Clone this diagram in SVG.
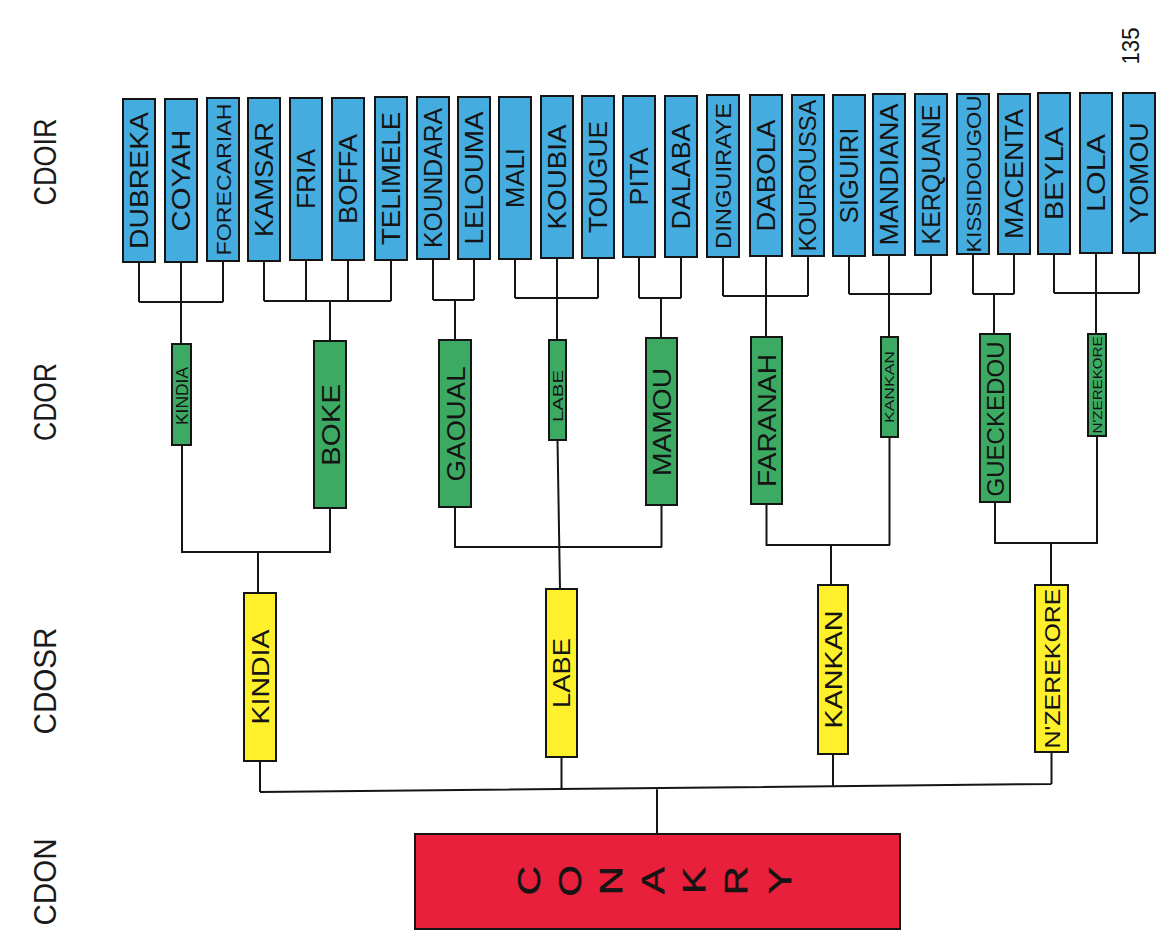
<svg xmlns="http://www.w3.org/2000/svg" width="1168" height="944" viewBox="0 0 1168 944">
<style>
.b{fill:#45ACDF;stroke:#151515;stroke-width:2}
.g{fill:#3DAA63;stroke:#151515;stroke-width:2}
.y{fill:#FFF02C;stroke:#151515;stroke-width:2}
.r{fill:#E8203C;stroke:#151515;stroke-width:2}
.t{font-family:"Liberation Sans",Arial,sans-serif;fill:#141414;text-anchor:middle}
.lab{font-family:"Liberation Sans",Arial,sans-serif;fill:#1a1a1a;text-anchor:middle;font-size:32px}
#connectors path{fill:none;stroke:#151515;stroke-width:2}
</style>
<rect width="1168" height="944" fill="#ffffff"/>

<g id="levels">
<text class="lab" transform="translate(56,162) rotate(-90)" textLength="87" lengthAdjust="spacingAndGlyphs">CDOIR</text>
<text class="lab" transform="translate(56,402) rotate(-90)" textLength="78" lengthAdjust="spacingAndGlyphs">CDOR</text>
<text class="lab" transform="translate(56,681) rotate(-90)" textLength="107" lengthAdjust="spacingAndGlyphs">CDOSR</text>
<text class="lab" transform="translate(56,882) rotate(-90)" textLength="87" lengthAdjust="spacingAndGlyphs">CDON</text>
<text class="t" font-size="23" transform="translate(1139,46) rotate(-90)" textLength="37" lengthAdjust="spacingAndGlyphs">135</text>
</g>

<g id="connectors">
<path d="M139,262 V302 M181,262 V344 M223,261 V302 M139,302 H223"/>
<path d="M264,261 V301 M306,260 V301 M348,260 V301 M391,260 V301 M264,301 H391 M330,301 V341"/>
<path d="M433,259 V300 M474,259 V300 M433,300 H474 M455,300 V340"/>
<path d="M515,259 V298 M557,258 V340 M598,258 V298 M515,298 H598"/>
<path d="M639,257 V298 M681,257 V298 M639,298 H681 M661,298 V338"/>
<path d="M723,257 V296 M766,256 V337 M808,256 V296 M723,296 H808"/>
<path d="M849,256 V294 M889,255 V337 M931,255 V294 M849,294 H931"/>
<path d="M973,254 V294 M1014,254 V294 M973,294 H1014 M994,294 V334"/>
<path d="M1054,254 V293 M1096,253 V334 M1139,253 V293 M1054,293 H1139"/>
<path d="M182,445 V552 H331 M330,508 V552 M258,552 V593"/>
<path d="M455,507 V547 H662 M661.5,505 V547 M557.5,440 L560,589"/>
<path d="M766.5,504 V545 H890 M889.5,437 V545 M831,545 V585"/>
<path d="M995,502 V543 H1098 M1097,436 V543 M1051,543 V585"/>
<path d="M260,761 V792 M561.5,757 V790 M833,754 V787 M1051.5,752 V784 M260,792 L1051.5,784 M657,789 V834"/>
</g>

<g id="n-dubreka"><rect class="b" x="123" y="99" width="32" height="163"/><text class="t" font-size="25" transform="translate(148,180.5) rotate(-90)" textLength="137" lengthAdjust="spacingAndGlyphs">DUBREKA</text></g>
<g id="n-coyah"><rect class="b" x="165" y="99" width="32" height="163"/><text class="t" font-size="25" transform="translate(190,180.5) rotate(-90)" textLength="102" lengthAdjust="spacingAndGlyphs">COYAH</text></g>
<g id="n-forecariah"><rect class="b" x="207" y="98" width="32" height="163"/><text class="t" font-size="21" transform="translate(230.5,179.5) rotate(-90)" textLength="152" lengthAdjust="spacingAndGlyphs">FORECARIAH</text></g>
<g id="n-kamsar"><rect class="b" x="248" y="98" width="32" height="163"/><text class="t" font-size="25" transform="translate(273,179.5) rotate(-90)" textLength="115" lengthAdjust="spacingAndGlyphs">KAMSAR</text></g>
<g id="n-fria"><rect class="b" x="290" y="98" width="32" height="162"/><text class="t" font-size="25" transform="translate(315,179) rotate(-90)" textLength="60" lengthAdjust="spacingAndGlyphs">FRIA</text></g>
<g id="n-boffa"><rect class="b" x="332" y="98" width="32" height="162"/><text class="t" font-size="25" transform="translate(357,179) rotate(-90)" textLength="90" lengthAdjust="spacingAndGlyphs">BOFFA</text></g>
<g id="n-telimele"><rect class="b" x="375" y="97" width="32" height="163"/><text class="t" font-size="25" transform="translate(400,178.5) rotate(-90)" textLength="133" lengthAdjust="spacingAndGlyphs">TELIMELE</text></g>
<g id="n-koundara"><rect class="b" x="417" y="97" width="32" height="162"/><text class="t" font-size="25" transform="translate(442,178) rotate(-90)" textLength="140" lengthAdjust="spacingAndGlyphs">KOUNDARA</text></g>
<g id="n-lelouma"><rect class="b" x="458" y="97" width="32" height="162"/><text class="t" font-size="25" transform="translate(483,178) rotate(-90)" textLength="133" lengthAdjust="spacingAndGlyphs">LELOUMA</text></g>
<g id="n-mali"><rect class="b" x="499" y="97" width="32" height="162"/><text class="t" font-size="25" transform="translate(524,178) rotate(-90)" textLength="60" lengthAdjust="spacingAndGlyphs">MALI</text></g>
<g id="n-koubia"><rect class="b" x="541" y="96" width="32" height="162"/><text class="t" font-size="25" transform="translate(566,177) rotate(-90)" textLength="105" lengthAdjust="spacingAndGlyphs">KOUBIA</text></g>
<g id="n-tougue"><rect class="b" x="582" y="96" width="32" height="162"/><text class="t" font-size="25" transform="translate(607,177) rotate(-90)" textLength="112" lengthAdjust="spacingAndGlyphs">TOUGUE</text></g>
<g id="n-pita"><rect class="b" x="623" y="96" width="32" height="161"/><text class="t" font-size="25" transform="translate(648,176.5) rotate(-90)" textLength="58" lengthAdjust="spacingAndGlyphs">PITA</text></g>
<g id="n-dalaba"><rect class="b" x="665" y="96" width="32" height="161"/><text class="t" font-size="25" transform="translate(690,176.5) rotate(-90)" textLength="106" lengthAdjust="spacingAndGlyphs">DALABA</text></g>
<g id="n-dinguiraye"><rect class="b" x="707" y="95" width="32" height="162"/><text class="t" font-size="22" transform="translate(731,176) rotate(-90)" textLength="146" lengthAdjust="spacingAndGlyphs">DINGUIRAYE</text></g>
<g id="n-dabola"><rect class="b" x="750" y="95" width="32" height="161"/><text class="t" font-size="25" transform="translate(775,175.5) rotate(-90)" textLength="112" lengthAdjust="spacingAndGlyphs">DABOLA</text></g>
<g id="n-kouroussa"><rect class="b" x="792" y="95" width="32" height="161"/><text class="t" font-size="23" transform="translate(816,175.5) rotate(-90)" textLength="152" lengthAdjust="spacingAndGlyphs">KOUROUSSA</text></g>
<g id="n-siguiri"><rect class="b" x="833" y="95" width="32" height="161"/><text class="t" font-size="25" transform="translate(858,175.5) rotate(-90)" textLength="96" lengthAdjust="spacingAndGlyphs">SIGUIRI</text></g>
<g id="n-mandiana"><rect class="b" x="873" y="94" width="32" height="161"/><text class="t" font-size="25" transform="translate(898,174.5) rotate(-90)" textLength="142" lengthAdjust="spacingAndGlyphs">MANDIANA</text></g>
<g id="n-kerquane"><rect class="b" x="915" y="94" width="32" height="161"/><text class="t" font-size="25" transform="translate(940,174.5) rotate(-90)" textLength="140" lengthAdjust="spacingAndGlyphs">KERQUANE</text></g>
<g id="n-kissidougou"><rect class="b" x="957" y="94" width="32" height="160"/><text class="t" font-size="21" transform="translate(980.5,174) rotate(-90)" textLength="157" lengthAdjust="spacingAndGlyphs">KISSIDOUGOU</text></g>
<g id="n-macenta"><rect class="b" x="998" y="94" width="32" height="160"/><text class="t" font-size="25" transform="translate(1023,174) rotate(-90)" textLength="130" lengthAdjust="spacingAndGlyphs">MACENTA</text></g>
<g id="n-beyla"><rect class="b" x="1038" y="93" width="32" height="161"/><text class="t" font-size="25" transform="translate(1063,173.5) rotate(-90)" textLength="93" lengthAdjust="spacingAndGlyphs">BEYLA</text></g>
<g id="n-lola"><rect class="b" x="1080" y="93" width="32" height="160"/><text class="t" font-size="25" transform="translate(1105,173) rotate(-90)" textLength="78" lengthAdjust="spacingAndGlyphs">LOLA</text></g>
<g id="n-yomou"><rect class="b" x="1123" y="93" width="32" height="160"/><text class="t" font-size="25" transform="translate(1148,173) rotate(-90)" textLength="101" lengthAdjust="spacingAndGlyphs">YOMOU</text></g>

<g id="r-kindia"><rect class="g" x="172" y="344" width="19" height="101"/><text class="t" font-size="16" transform="translate(187.5,396) rotate(-90)" textLength="58" lengthAdjust="spacingAndGlyphs">KINDIA</text></g>
<g id="r-boke"><rect class="g" x="314" y="341" width="32" height="167"/><text class="t" font-size="26" transform="translate(339.5,425) rotate(-90)" textLength="82" lengthAdjust="spacingAndGlyphs">BOKE</text></g>
<g id="r-gaoual"><rect class="g" x="439" y="340" width="32" height="167"/><text class="t" font-size="26" transform="translate(464.5,424) rotate(-90)" textLength="115" lengthAdjust="spacingAndGlyphs">GAOUAL</text></g>
<g id="r-labe"><rect class="g" x="549" y="340" width="17" height="100"/><text class="t" font-size="14" transform="translate(562.5,396) rotate(-90)" textLength="52" lengthAdjust="spacingAndGlyphs">LABE</text></g>
<g id="r-mamou"><rect class="g" x="646" y="338" width="31" height="167"/><text class="t" font-size="26" transform="translate(671,422) rotate(-90)" textLength="108" lengthAdjust="spacingAndGlyphs">MAMOU</text></g>
<g id="r-faranah"><rect class="g" x="751" y="337" width="31" height="167"/><text class="t" font-size="26" transform="translate(776,420.5) rotate(-90)" textLength="133" lengthAdjust="spacingAndGlyphs">FARANAH</text></g>
<g id="r-kankan"><rect class="g" x="881" y="337" width="17" height="100"/><text class="t" font-size="13" transform="translate(894,387) rotate(-90)" textLength="72" lengthAdjust="spacingAndGlyphs">KANKAN</text></g>
<g id="r-gueckedou"><rect class="g" x="980" y="334" width="30" height="168"/><text class="t" font-size="23" transform="translate(1003.5,419) rotate(-90)" textLength="155" lengthAdjust="spacingAndGlyphs">GUECKEDOU</text></g>
<g id="r-nzerekore"><rect class="g" x="1088" y="334" width="18" height="102"/><text class="t" font-size="12" transform="translate(1101.5,385) rotate(-90)" textLength="97" lengthAdjust="spacingAndGlyphs">N'ZEREKORE</text></g>

<g id="s-kindia"><rect class="y" x="244" y="593" width="32" height="168"/><text class="t" font-size="24" transform="translate(268.5,677) rotate(-90)" textLength="95" lengthAdjust="spacingAndGlyphs">KINDIA</text></g>
<g id="s-labe"><rect class="y" x="546" y="589" width="31" height="168"/><text class="t" font-size="24" transform="translate(570,673) rotate(-90)" textLength="70" lengthAdjust="spacingAndGlyphs">LABE</text></g>
<g id="s-kankan"><rect class="y" x="818" y="585" width="30" height="169"/><text class="t" font-size="24" transform="translate(841.5,669.5) rotate(-90)" textLength="118" lengthAdjust="spacingAndGlyphs">KANKAN</text></g>
<g id="s-nzerekore"><rect class="y" x="1035" y="585" width="33" height="167"/><text class="t" font-size="22" transform="translate(1059.5,668.5) rotate(-90)" textLength="160" lengthAdjust="spacingAndGlyphs">N'ZEREKORE</text></g>

<g id="n-conakry"><rect class="r" x="415" y="834" width="485" height="95"/><g transform="translate(0,881) scale(1,1.3) translate(0,-881)"><text class="t" font-size="31" style="text-anchor:start;stroke:#141414;stroke-width:0.6" x="540 581 622 664 705 747 791" y="892 893 892 891 891 892 891" rotate="-90">CONAKRY</text></g></g>
</svg>
